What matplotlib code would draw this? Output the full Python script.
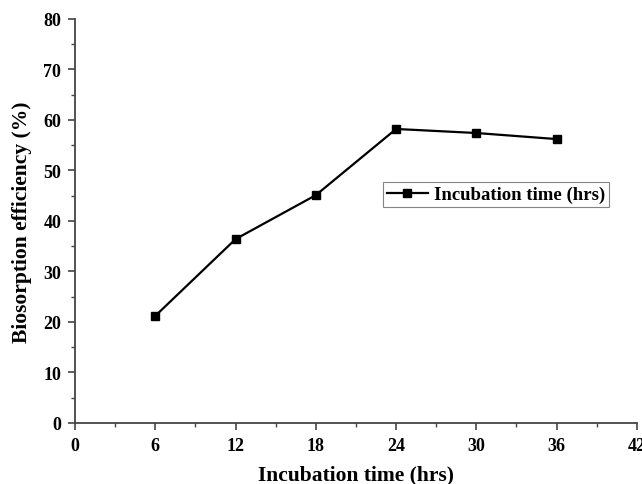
import matplotlib
matplotlib.use("Agg")
import matplotlib.pyplot as plt
from matplotlib.ticker import MultipleLocator

x_hours = [6, 12, 18, 24, 30, 36]
efficiency = [21.2, 36.4, 45.1, 58.2, 57.4, 56.2]
series_label = "Incubation time (hrs)"
x_label = "Incubation time (hrs)"
y_label = "Biosorption efficiency (%)"

plt.rcParams['font.family'] = ['Liberation Serif', 'DejaVu Serif']
plt.rcParams['font.weight'] = 'bold'

fig = plt.figure(figsize=(6.42, 4.85), dpi=100)
ax = fig.add_axes([0.117, 0.126, 0.875, 0.833])
ax.plot(x_hours, efficiency, color='black', lw=1.6, marker='s', ms=6,
        label=series_label)
ax.set_xlim(0, 42)
ax.set_ylim(0, 80)
ax.xaxis.set_major_locator(MultipleLocator(6))
ax.xaxis.set_minor_locator(MultipleLocator(3))
ax.yaxis.set_major_locator(MultipleLocator(10))
ax.yaxis.set_minor_locator(MultipleLocator(5))
for s in ['top', 'right']:
    ax.spines[s].set_visible(False)
for s in ['left', 'bottom']:
    ax.spines[s].set_color('#444444')
    ax.spines[s].set_linewidth(1.3)
ax.tick_params(which='major', direction='out', length=5, width=1.2, color='#444444',
               labelsize=13, pad=5)
ax.tick_params(which='minor', direction='out', length=3, width=1.0, color='#444444')
for lab in ax.get_xticklabels() + ax.get_yticklabels():
    lab.set_fontweight('bold')
ax.set_xlabel(x_label, fontsize=15.5, fontweight='bold', labelpad=8)
ax.set_ylabel(y_label, fontsize=15.5, fontweight='bold', labelpad=8)
leg = ax.legend(loc='center left', bbox_to_anchor=(0.548, 0.565), frameon=True,
                fancybox=False, edgecolor='#666666', fontsize=13.5,
                handlelength=2.2, borderpad=0.2, borderaxespad=0, handletextpad=0.3)
leg.get_frame().set_linewidth(0.8)
fig.savefig("out.png", dpi=100)
